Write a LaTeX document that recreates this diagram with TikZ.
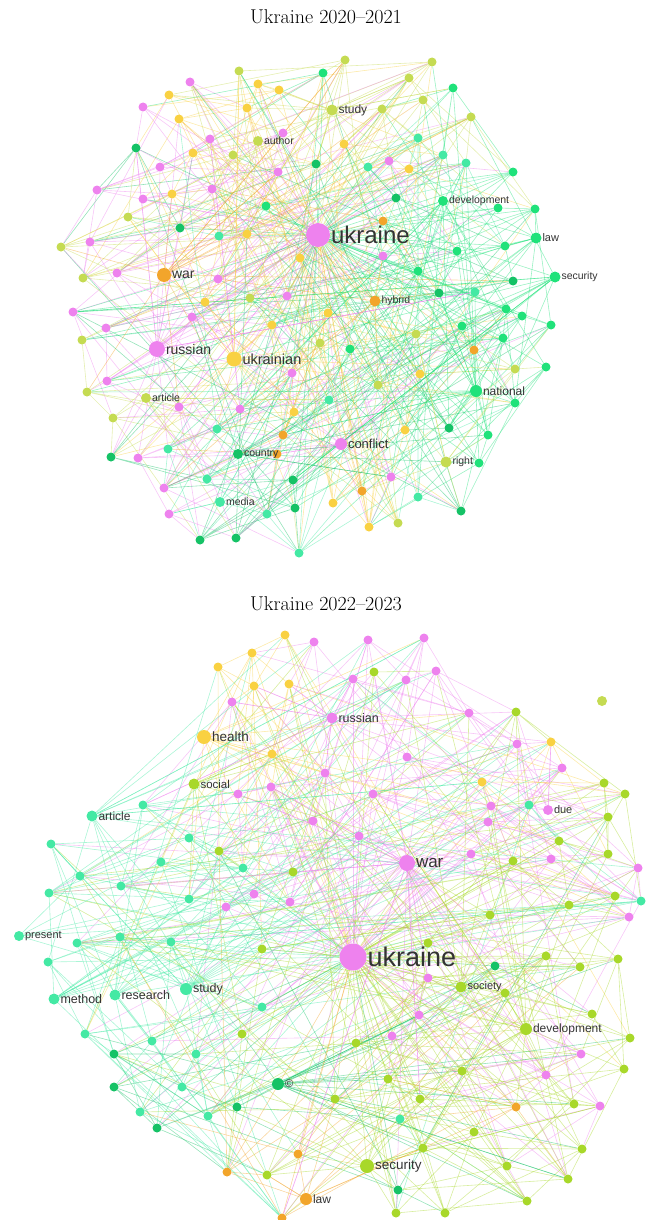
\documentclass[tikz,border=0pt]{standalone}
\usepackage{fontspec}
\newfontfamily\lblfont{Liberation Sans}
\usetikzlibrary{backgrounds}
\definecolor{cp}{HTML}{EE82EE}
\definecolor{cy}{HTML}{F9D142}
\definecolor{co}{HTML}{F2A52B}
\definecolor{cl}{HTML}{C5DB52}
\definecolor{ck}{HTML}{A8D82A}
\definecolor{cg}{HTML}{20E27A}
\definecolor{cd}{HTML}{15C266}
\definecolor{cm}{HTML}{44E9A4}
\definecolor{lbltext}{HTML}{333333}
\begin{document}
\begin{tikzpicture}[x=1pt, y=-1pt,
  nd/.style={shape=circle, inner sep=0pt, minimum size=#1},
  nd/.default=9pt,
  ed/.style={line width=0.6pt, opacity=0.45},
  lb/.style={font=\lblfont\fontsize{#1}{#1}\selectfont, text=lbltext, inner sep=0.6pt},
  ttl/.style={font=\fontsize{20}{24}\selectfont}]
\useasboundingbox (0,0) rectangle (653,1220);
\pgfmathsetseed{41}

\node[ttl] (title1) at (326,17) {Ukraine 2020--2021};
\node[ttl] (title2) at (326,604) {Ukraine 2022--2023};

% 2020--2021
\foreach \px/\py/\c [count=\i] in {239/71/cl, 190/82/cp, 258/84/cy, 279/90/cy, 323/73/cg, 345/60/cl, 432/62/cl,
  169/95/cy, 143/107/cp, 247/108/cy, 179/119/cy, 210/139/cp, 283/133/cp, 136/148/cd, 193/153/cy, 233/155/cl,
  316/164/cd, 160/167/cp, 278/172/cp, 97/190/cp, 143/199/cp, 172/194/cy, 212/189/cp, 266/206/cg, 128/217/cl,
  180/228/cd, 219/236/cm, 247/234/cy, 61/247/cl, 90/242/cp, 83/278/cl, 117/273/cp, 218/279/cp, 287/296/cp,
  409/78/cl, 453/88/cg, 423/100/cl, 382/109/cl, 471/117/cl, 344/144/cy, 418/138/cm, 443/155/cm, 466/163/cm,
  389/161/cp, 409/169/cy, 368/167/cm, 513/172/cg, 396/198/cd, 498/208/cg, 535/209/cg, 383/221/co, 505/246/cg,
  383/256/cp, 457/251/cg, 418/271/cg, 513/281/cd, 439/293/cd, 475/292/cm,
  73/312/cp, 106/328/cp, 192/317/cp, 82/340/cl, 272/325/cy, 320/343/cl, 107/381/cp, 87/392/cl, 179/407/cp,
  240/409/cp, 292/373/cp, 294/412/cy, 113/418/cl, 217/429/cm, 283/435/co, 329/400/cm, 168/449/cm, 111/457/cd,
  138/458/cp, 277/454/co, 207/479/cm, 293/480/cd, 164/488/cp, 267/514/cm, 295/508/cd, 169/514/cp, 200/540/cd,
  236/538/cd, 299/553/cm,
  328/313/cy, 350/349/cg, 416/334/cl, 474/350/co, 462/326/cg, 506/309/cg, 522/316/cg, 551/325/cg, 503/338/cg,
  515/369/cl, 546/367/cg, 420/374/cy, 378/385/cl, 515/403/cg, 449/428/cd, 488/435/cg, 405/430/cy, 479/463/cg,
  391/477/cp, 362/491/co, 333/503/cy, 418/497/cm, 461/511/cd, 369/527/cy, 398/523/cl,
  300/258/cy, 250/298/cl, 205/302/cy}
  {\node[nd, fill=\c] (t\i) at (\px,\py) {};
   \expandafter\xdef\csname tc\i\endcsname{\c}\xdef\NT{\i}}

\node[nd=24pt, fill=cp, label={[lb=24]right:ukraine}] (tUkraine) at (318,235) {};
\node[nd=11pt, fill=cl, label={[lb=12]right:study}] (tStudy) at (332,110) {};
\node[nd=10pt, fill=cl, label={[lb=10.5]right:author}] (tAuthor) at (258,141) {};
\node[nd=10pt, fill=cg, label={[lb=10.5]right:development}] (tDevelopment) at (443,201) {};
\node[nd=11pt, fill=cg, label={[lb=11]right:law}] (tLaw) at (536,238) {};
\node[nd=11pt, fill=cg, label={[lb=10.5]right:security}] (tSecurity) at (555,277) {};
\node[nd=14pt, fill=co, label={[lb=14]right:war}] (tWar) at (164,275) {};
\node[nd=11pt, fill=co, label={[lb=10.5]right:hybrid}] (tHybrid) at (375,301) {};
\node[nd=16pt, fill=cp, label={[lb=14]right:russian}] (tRussian) at (157,349) {};
\node[nd=15pt, fill=cy, label={[lb=14.5]right:ukrainian}] (tUkrainian) at (234,359) {};
\node[nd=12pt, fill=cg, label={[lb=12]right:national}] (tNational) at (476,391) {};
\node[nd=10pt, fill=cl, label={[lb=10.5]right:article}] (tArticle) at (146,398) {};
\node[nd=12pt, fill=cp, label={[lb=13]right:conflict}] (tConflict) at (341,444) {};
\node[nd=10pt, fill=cd, label={[lb=10.5]right:country}] (tCountry) at (238,454) {};
\node[nd=11pt, fill=cl, label={[lb=10.5]right:right}] (tRight) at (446,462) {};
\node[nd=10pt, fill=cm, label={[lb=10.5]right:media}] (tMedia) at (220,502) {};

\begin{pgfonlayer}{background}
\foreach \i in {1,...,\NT} {
  \edef\ec{\csname tc\i\endcsname}
  \pgfmathtruncatemacro\s{mod(\i+random(1,8)-1,\NT)+1}
  \pgfmathtruncatemacro\u{mod(\i+random(1,14)-1,\NT)+1}
  \pgfmathtruncatemacro\v{mod(\i+random(1,20)-1,\NT)+1}
  \pgfmathrandominteger{\r}{1}{\NT}
  \draw[ed, draw=\ec] (t\i) -- (t\s) (t\i) -- (t\u) (t\i) -- (t\v) (t\i) -- (t\r);
  \pgfmathsetmacro\q{rnd}
  \ifdim\q pt<0.92pt \draw[ed, draw=\ec] (tUkraine) -- (t\i); \fi
}
\foreach \h/\c/\k/\lo/\hi in {tRussian/cp/26/1/87, tWar/co/16/1/87, tUkrainian/cy/20/1/115,
  tConflict/cp/18/59/112, tNational/cg/20/35/112, tSecurity/cg/14/35/112, tDevelopment/cg/16/35/112,
  tLaw/cg/12/35/112, tStudy/cl/16/1/58, tHybrid/co/9/1/115, tCountry/cd/14/59/112,
  tMedia/cm/9/59/87, tArticle/cl/8/59/87, tAuthor/cl/6/1/34, tRight/cl/8/88/112} {
  \foreach \j in {1,...,\k} {
    \pgfmathrandominteger{\r}{\lo}{\hi}
    \draw[ed, draw=\c] (\h) -- (t\r);
  }
}
\end{pgfonlayer}

% 2022--2023
\foreach \px/\py/\c [count=\i] in {285/635/cy, 314/642/cp, 252/653/cy, 218/667/cy, 254/686/cy, 289/684/cy,
  232/702/cp, 272/754/cy, 325/773/cp, 238/794/cp, 271/787/cp, 143/805/cm, 313/821/cp, 51/844/cm, 189/838/cm,
  219/851/ck, 161/862/cm, 243/868/cm, 293/872/ck, 80/876/cm, 121/886/cm, 49/893/cm, 189/899/cm, 254/894/cp,
  290/902/cp, 226/907/cp,
  368/640/cp, 424/638/cp, 374/672/ck, 353/679/cp, 406/680/cp, 436/671/cp, 469/713/cp, 516/712/ck,
  517/744/cp, 551/742/cy, 562/768/cp, 407/757/cp, 482/782/cy, 604/783/ck, 625/794/ck, 373/794/cp, 491/806/cp,
  529/805/cm, 488/822/cp, 608/817/ck, 559/841/ck, 359/836/cp, 471/854/cp, 513/861/ck, 551/859/cp, 608/854/ck,
  638/868/cp, 615/896/ck, 641/901/cm, 569/905/ck, 629/917/cp, 490/915/ck,
  77/943/cm, 120/937/cm, 171/942/cm, 262/949/ck, 48/962/cm, 262/1007/cm, 242/1034/ck, 85/1034/cm, 152/1041/cm,
  114/1054/cd, 196/1054/cm, 114/1087/cd, 182/1087/cm, 140/1112/cm, 157/1128/cd, 208/1116/cm, 237/1107/cd,
  298/1154/co, 227/1172/co, 267/1175/ck, 282/1218/co,
  428/943/ck, 495/966/cd, 546/956/ck, 580/967/ck, 618/959/ck, 428/978/cp, 505/993/ck, 419/1015/cp, 592/1014/ck,
  392/1036/cp, 356/1043/ck, 630/1038/ck, 581/1054/cp, 462/1071/ck, 546/1075/cp, 624/1069/ck, 388/1079/ck,
  335/1099/ck, 420/1099/ck, 516/1107/co, 574/1104/ck, 600/1106/cp, 400/1119/cm, 474/1132/ck, 423/1148/ck,
  582/1149/ck, 507/1166/ck, 568/1179/ck, 398/1190/cd, 527/1201/ck, 396/1213/ck, 445/1213/ck}
  {\node[nd, fill=\c] (b\i) at (\px,\py) {};
   \expandafter\xdef\csname bc\i\endcsname{\c}\xdef\NB{\i}}
\node[nd=10pt, fill=cl] (bLone) at (602,701) {};

\node[nd=27pt, fill=cp, label={[lb=27]right:ukraine}] (bUkraine) at (353,957) {};
\node[nd=16pt, fill=cp, label={[lb=17]right:war}] (bWar) at (407,863) {};
\node[nd=11pt, fill=cp, label={[lb=12.5]right:russian}] (bRussian) at (332,718) {};
\node[nd=14pt, fill=cy, label={[lb=13.5]right:health}] (bHealth) at (204,737) {};
\node[nd=11pt, fill=ck, label={[lb=11.5]right:social}] (bSocial) at (194,784) {};
\node[nd=11pt, fill=cm, label={[lb=12]right:article}] (bArticle) at (92,816) {};
\node[nd=10pt, fill=cp, label={[lb=11]right:due}] (bDue) at (548,810) {};
\node[nd=10pt, fill=cm, label={[lb=11]right:present}] (bPresent) at (19,936) {};
\node[nd=11pt, fill=cm, label={[lb=12.5]right:method}] (bMethod) at (54,999) {};
\node[nd=11pt, fill=cm, label={[lb=12.5]right:research}] (bResearch) at (115,995) {};
\node[nd=12pt, fill=cm, label={[lb=12.5]right:study}] (bStudy) at (186,989) {};
\node[nd=12pt, fill=cd, label={[lb=11]right:©}] (bCopy) at (278,1084) {};
\node[nd=11pt, fill=ck, label={[lb=11]right:society}] (bSociety) at (461,987) {};
\node[nd=12pt, fill=ck, label={[lb=12]right:development}] (bDevelopment) at (526,1029) {};
\node[nd=14pt, fill=ck, label={[lb=13.5]right:security}] (bSecurity) at (367,1166) {};
\node[nd=12pt, fill=co, label={[lb=12]right:law}] (bLaw) at (306,1199) {};

\begin{pgfonlayer}{background}
\foreach \i in {1,...,\NB} {
  \edef\ec{\csname bc\i\endcsname}
  \pgfmathtruncatemacro\s{mod(\i+random(1,8)-1,\NB)+1}
  \pgfmathtruncatemacro\u{mod(\i+random(1,14)-1,\NB)+1}
  \pgfmathtruncatemacro\v{mod(\i+random(1,20)-1,\NB)+1}
  \pgfmathrandominteger{\r}{1}{\NB}
  \draw[ed, draw=\ec] (b\i) -- (b\s) (b\i) -- (b\u) (b\i) -- (b\v) (b\i) -- (b\r);
  \pgfmathsetmacro\q{rnd}
  \ifdim\q pt<0.85pt \draw[ed, draw=\ec] (bUkraine) -- (b\i); \fi
}
\foreach \h/\c/\k/\lo/\hi in {bWar/cp/40/1/111, bRussian/cp/22/1/58, bHealth/cy/14/1/58,
  bSocial/ck/10/1/79, bArticle/cm/16/1/79, bPresent/cm/6/1/79, bMethod/cm/12/1/79,
  bResearch/cm/14/1/79, bStudy/cm/16/1/79, bCopy/cd/16/59/111, bSociety/ck/12/27/111,
  bDevelopment/ck/18/27/111, bSecurity/ck/16/59/111, bLaw/co/8/59/111, bDue/cp/8/27/58} {
  \foreach \j in {1,...,\k} {
    \pgfmathrandominteger{\r}{\lo}{\hi}
    \draw[ed, draw=\c] (\h) -- (b\r);
  }
}
\end{pgfonlayer}
\end{tikzpicture}
\end{document}
